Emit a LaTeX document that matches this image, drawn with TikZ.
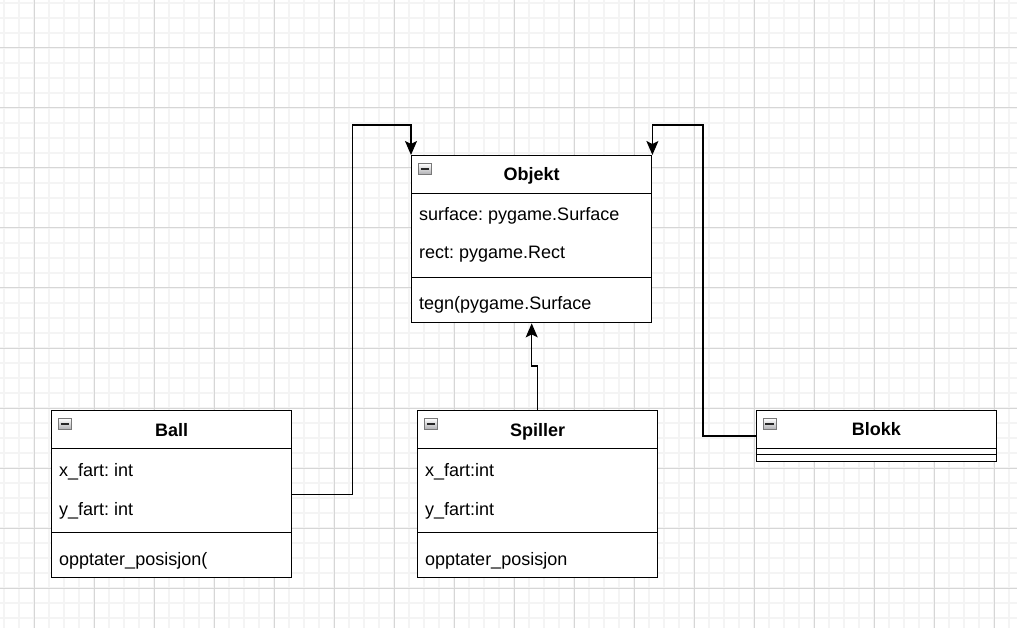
\documentclass[tikz,border=0pt]{standalone}
\usepackage{fontspec}
\setmainfont{Liberation Sans}
\usetikzlibrary{arrows.meta}
\frenchspacing
\definecolor{gridminor}{RGB}{244,244,244}
\definecolor{gridmajor}{RGB}{214,214,214}
\definecolor{iconedge}{RGB}{120,120,120}
\definecolor{iconfill}{RGB}{175,175,178}
\tikzset{
  classbox/.style={draw, line width=1.4pt, fill=white, rectangle, minimum width=240pt, anchor=north west, inner sep=0pt},
  sepline/.style={line width=1.4pt},
  attr/.style={anchor=base west, inner sep=0pt, font=\fontsize{18}{21}\selectfont},
  ctitle/.style={anchor=base, inner sep=0pt, font=\fontsize{18}{21}\selectfont\bfseries},
  conn/.style={line width=1.4pt},
  arr/.style={conn, -{Stealth[length=14pt,width=12pt,inset=3pt]}},
  iconbox/.style={anchor=north west, minimum width=13pt, minimum height=11pt, inner sep=0pt, draw=iconedge, line width=0.8pt, top color=white, bottom color=iconfill},
  iconminus/.style={line width=1.8pt, black!85},
  minorline/.style={gridminor, line width=1.6pt},
  majorline/.style={gridmajor, line width=1pt}
}
\begin{document}
\frenchspacing
\begin{tikzpicture}[x=1pt,y=-1pt]
\useasboundingbox (0,0) rectangle (1017,628);
\fill[white] (0,0) rectangle (1017,628);
% grid
\foreach \x in {4,19,...,1017} \draw[minorline] (\x,0) -- (\x,628);
\foreach \y in {3,18,...,628} \draw[minorline] (0,\y) -- (1017,\y);
\foreach \x in {34,94,...,1017} \draw[majorline] (\x,0) -- (\x,628);
\foreach \y in {48,108,...,628} \draw[majorline] (0,\y) -- (1017,\y);

% Objekt
\node[classbox, minimum height=167pt] (obj) at (411,155) {};
\draw[sepline] ([yshift=-38.5pt]obj.north west) -- ([yshift=-38.5pt]obj.north east);
\draw[sepline] ([yshift=-122.5pt]obj.north west) -- ([yshift=-122.5pt]obj.north east);
\node[ctitle] (objtitle) at ([yshift=-25.7pt]obj.north) {Objekt};
\node[attr] (objsurf) at ([xshift=8pt,yshift=-65.5pt]obj.north west) {surface: pygame.Surface};
\node[attr] (objrect) at ([xshift=8pt,yshift=-104pt]obj.north west) {rect: pygame.Rect};
\node[attr] (objtegn) at ([xshift=8pt,yshift=-154.5pt]obj.north west) {tegn(pygame.Surface};
\node[iconbox] (objicon) at ([xshift=7pt,yshift=-8pt]obj.north west) {};
\draw[iconminus] ([xshift=2.5pt]objicon.west) -- ([xshift=-2.5pt]objicon.east);

% Ball
\node[classbox, minimum height=167pt] (ball) at (51,410) {};
\draw[sepline] ([yshift=-38.5pt]ball.north west) -- ([yshift=-38.5pt]ball.north east);
\draw[sepline] ([yshift=-122.5pt]ball.north west) -- ([yshift=-122.5pt]ball.north east);
\node[ctitle] (balltitle) at ([yshift=-26pt]ball.north) {Ball};
\node[attr] (ballx) at ([xshift=8pt,yshift=-66pt]ball.north west) {x\_fart: int};
\node[attr] (bally) at ([xshift=8pt,yshift=-105pt]ball.north west) {y\_fart: int};
\node[attr] (ballm) at ([xshift=8pt,yshift=-155.5pt]ball.north west) {opptater\_posisjon(};
\node[iconbox] (ballicon) at ([xshift=7pt,yshift=-8pt]ball.north west) {};
\draw[iconminus] ([xshift=2.5pt]ballicon.west) -- ([xshift=-2.5pt]ballicon.east);

% Spiller
\node[classbox, minimum height=167pt] (spiller) at (417,410) {};
\draw[sepline] ([yshift=-38.5pt]spiller.north west) -- ([yshift=-38.5pt]spiller.north east);
\draw[sepline] ([yshift=-122.5pt]spiller.north west) -- ([yshift=-122.5pt]spiller.north east);
\node[ctitle] (spillertitle) at ([yshift=-26pt]spiller.north) {Spiller};
\node[attr] (spillerx) at ([xshift=8pt,yshift=-66pt]spiller.north west) {x\_fart:int};
\node[attr] (spillery) at ([xshift=8pt,yshift=-105pt]spiller.north west) {y\_fart:int};
\node[attr] (spillerm) at ([xshift=8pt,yshift=-155.5pt]spiller.north west) {opptater\_posisjon};
\node[iconbox] (spillericon) at ([xshift=7pt,yshift=-8pt]spiller.north west) {};
\draw[iconminus] ([xshift=2.5pt]spillericon.west) -- ([xshift=-2.5pt]spillericon.east);

% Blokk
\node[classbox, minimum height=50.7pt] (blokk) at (755.7,410) {};
\draw[sepline] ([yshift=-38.5pt]blokk.north west) -- ([yshift=-38.5pt]blokk.north east);
\draw[sepline] ([yshift=-44.3pt]blokk.north west) -- ([yshift=-44.3pt]blokk.north east);
\node[ctitle] (blokktitle) at ([yshift=-25.5pt]blokk.north) {Blokk};
\node[iconbox] (blokkicon) at ([xshift=7pt,yshift=-8pt]blokk.north west) {};
\draw[iconminus] ([xshift=2.5pt]blokkicon.west) -- ([xshift=-2.5pt]blokkicon.east);

% connectors
\draw[arr] (ball.east) -- ++(60,0) |- ([yshift=30pt]obj.north west) -- (obj.north west);
\draw[arr] (blokk.west) -- ++(-52.7,0) |- ([yshift=30pt]obj.north east) -- (obj.north east);
\draw[arr] (spiller.north) -- ++(0,-44) -| (obj.south);
\end{tikzpicture}
\end{document}
